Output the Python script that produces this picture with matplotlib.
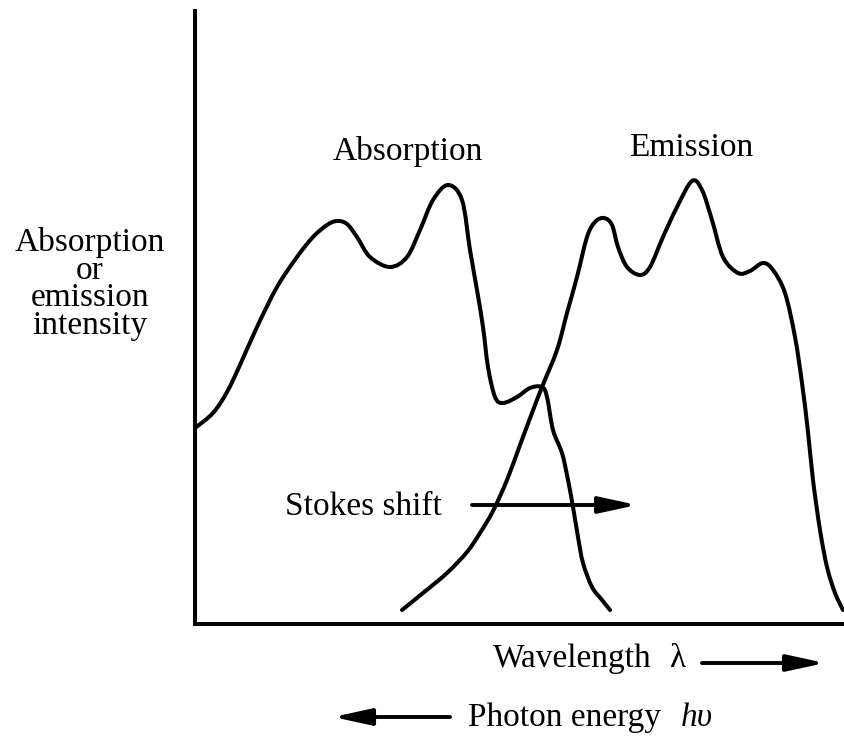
import matplotlib
matplotlib.use("Agg")
import matplotlib.pyplot as plt
from matplotlib.path import Path
from matplotlib.patches import PathPatch

# Absorption / emission spectra (arbitrary wavelength and intensity units)
ABS_WAVELENGTH = [0, 18, 32, 45, 62, 82, 102, 118, 132, 142, 152, 162, 175, 195,
                  212, 225, 238, 253, 267, 275, 282, 288, 293, 300, 308, 322, 335,
                  347, 352, 358, 367, 373, 378, 383, 388, 397, 407, 415]
ABS_INTENSITY = [196, 211, 232, 259, 297, 337, 367, 387, 399, 403, 400, 387, 367, 357,
                 367, 394, 424, 439, 424, 374, 334, 297, 257, 227, 221, 227, 236,
                 237, 227, 194, 171, 144, 117, 87, 61, 37, 24, 14]

EM_WAVELENGTH = [207, 228, 252, 272, 285, 298, 312, 325, 337, 347, 362, 372, 382, 392,
                 400, 409, 417, 423, 432, 445, 455, 468, 482, 497, 507, 517, 528, 543,
                 555, 568, 578, 590, 600, 607, 613, 618, 625, 632, 640, 648]
EM_INTENSITY = [14, 31, 51, 72, 91, 113, 144, 179, 211, 237, 274, 311, 347, 387,
                402, 406, 399, 377, 357, 349, 357, 387, 417, 443, 434, 404, 367, 351,
                353, 361, 354, 331, 287, 241, 192, 144, 94, 57, 31, 14]

Y_LABEL_LINES = ["Absorption", "or", "emission", "intensity"]

FONT = "Liberation Serif"
FS = 24
LW = 2.9


def smooth_path(xs, ys):
    """Bezier path through the points (Catmull-Rom tangents)."""
    pts = list(zip(xs, ys))
    n = len(pts)
    verts = [pts[0]]
    codes = [Path.MOVETO]
    for i in range(n - 1):
        p0 = pts[max(i - 1, 0)]
        p1 = pts[i]
        p2 = pts[i + 1]
        p3 = pts[min(i + 2, n - 1)]
        c1 = (p1[0] + (p2[0] - p0[0]) / 6, p1[1] + (p2[1] - p0[1]) / 6)
        c2 = (p2[0] - (p3[0] - p1[0]) / 6, p2[1] - (p3[1] - p1[1]) / 6)
        verts += [c1, c2, p2]
        codes += [Path.CURVE4] * 3
    return Path(verts, codes)


fig = plt.figure(figsize=(8.44, 7.36), dpi=100)
ax = fig.add_axes([195 / 844, 112 / 736, 649 / 844, 613 / 736])
ax.set_xlim(0, 649)
ax.set_ylim(0, 613)

for xs, ys in ((ABS_WAVELENGTH, ABS_INTENSITY), (EM_WAVELENGTH, EM_INTENSITY)):
    ax.add_patch(PathPatch(smooth_path(xs, ys), fill=False, edgecolor="black",
                           lw=LW, capstyle="round", joinstyle="round"))

# plain L-shaped axes, no ticks
for side in ("top", "right"):
    ax.spines[side].set_visible(False)
for side in ("left", "bottom"):
    ax.spines[side].set_linewidth(LW)
ax.set_xticks([])
ax.set_yticks([])

txt = dict(family=FONT, fontsize=FS, color="black", clip_on=False)

# curve labels
ax.text(213, 464, "Absorption", ha="center", va="baseline", **txt)
ax.text(496, 468, "Emission", ha="center", va="baseline", **txt)

# y label, one line at a time for tight spacing
for i, line in enumerate(Y_LABEL_LINES):
    ax.text(-105, 373 - i * 27.7, line, ha="center", va="baseline", **txt)

arrow = dict(arrowstyle="-|>,head_length=2.3,head_width=0.5",
             mutation_scale=10, lw=2.8, color="black", shrinkA=0, shrinkB=0)

# Stokes shift
ax.text(90, 109, "Stokes shift", ha="left", va="baseline", **txt)
ax.annotate("", xy=(442, 119), xytext=(277, 119), arrowprops=arrow,
            annotation_clip=False)

# wavelength axis direction
ax.text(298, -43, "Wavelength", ha="left", va="baseline", **txt)
ax.text(474, -43, "λ", ha="left", va="baseline", **txt)
ax.annotate("", xy=(630, -39), xytext=(507, -39), arrowprops=arrow,
            annotation_clip=False)

# photon energy direction
ax.annotate("", xy=(138, -93), xytext=(255, -93), arrowprops=arrow,
            annotation_clip=False)
ax.text(273, -102, "Photon energy", ha="left", va="baseline", **txt)
ax.text(486, -102, "hυ", ha="left", va="baseline", style="italic", **txt)

fig.savefig("out.png", dpi=100)
